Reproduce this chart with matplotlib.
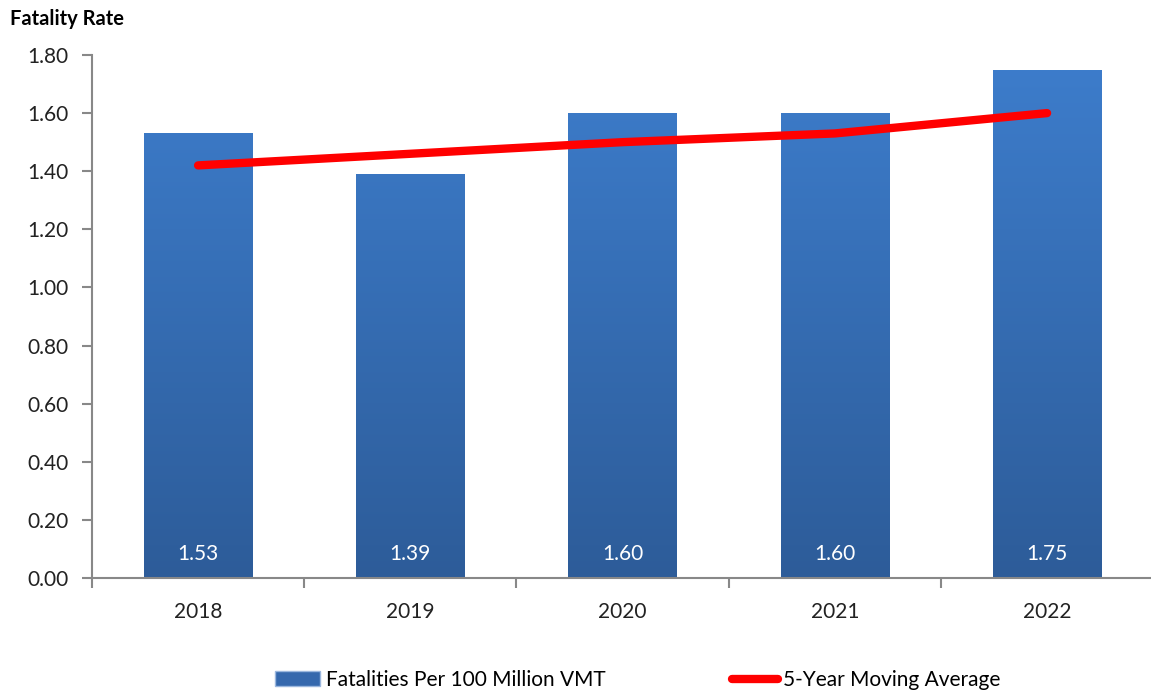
import matplotlib.pyplot as plt
import numpy as np
from matplotlib.colors import LinearSegmentedColormap
from matplotlib.lines import Line2D
from matplotlib.patches import Patch

years = ["2018", "2019", "2020", "2021", "2022"]
rate = [1.53, 1.39, 1.60, 1.60, 1.75]
moving_avg = [1.42, 1.46, 1.50, 1.53, 1.60]
yticks = [0.0, 0.2, 0.4, 0.6, 0.8, 1.0, 1.2, 1.4, 1.6, 1.8]

plt.rcParams['font.family'] = ['Lato', 'DejaVu Sans']

fig = plt.figure(figsize=(11.51, 6.96), dpi=100)
ax = fig.add_axes([0.0799, 0.1695, 0.922, 0.7515])

x = np.arange(len(years))
bars = ax.bar(x, rate, width=0.51, color='#3a78c5', edgecolor='none', zorder=2)

# gradient fill, lighter at top
grad = LinearSegmentedColormap.from_list('g', ['#2d5c99', '#3d7dcc'])
for b in bars:
  x0 = b.get_x()
  w = b.get_width()
  img = ax.imshow(np.linspace(0, 1, 256).reshape(-1, 1), cmap=grad,
                  extent=[x0, x0 + w, 0, 1.8], origin='lower',
                  aspect='auto', zorder=2)
  img.set_clip_path(b)

ax.plot(x, moving_avg, color='#ff0000', lw=6, solid_capstyle='round', zorder=3)

for xi, v in zip(x, rate):
  ax.text(xi, 0.083, f"{v:.2f}", color='white', ha='center', va='center',
          fontsize=15, zorder=4)

ax.set_xlim(-0.5, 4.5)
ax.set_ylim(0, 1.8)
ax.set_yticks(yticks)
ax.set_yticklabels([f"{t:.2f}" for t in yticks], fontsize=15)
ax.set_xticks(x)
ax.set_xticklabels(years, fontsize=15)
ax.set_xticks(np.arange(-0.5, 4.6, 1), minor=True)
ax.tick_params(axis='x', which='major', length=0, pad=17, colors='#222222')
ax.tick_params(axis='x', which='minor', length=7, width=1.5, color='#888888', direction='out')
ax.tick_params(axis='y', length=7, width=1.5, pad=10, colors='#222222')
ax.tick_params(axis='y', color='#888888')

for s in ['top', 'right']:
  ax.spines[s].set_visible(False)
for s in ['left', 'bottom']:
  ax.spines[s].set_color('#888888')
  ax.spines[s].set_linewidth(1.5)

fig.text(0.009, 0.973, "Fatality Rate", fontsize=14.5, fontweight='bold', va='center')

handles = [Patch(facecolor='#3568ad', edgecolor='#9bb7de', label='Fatalities Per 100 Million VMT'),
           Line2D([0], [0], color='#ff0000', lw=6, solid_capstyle='round', label='5-Year Moving Average')]
fig.legend(handles=handles, loc='center', bbox_to_anchor=(0.554, 0.023), ncol=2,
           frameon=False, fontsize=15, handlelength=2.2, handletextpad=0.25, columnspacing=6.1)

fig.savefig('out.png', dpi=100)
